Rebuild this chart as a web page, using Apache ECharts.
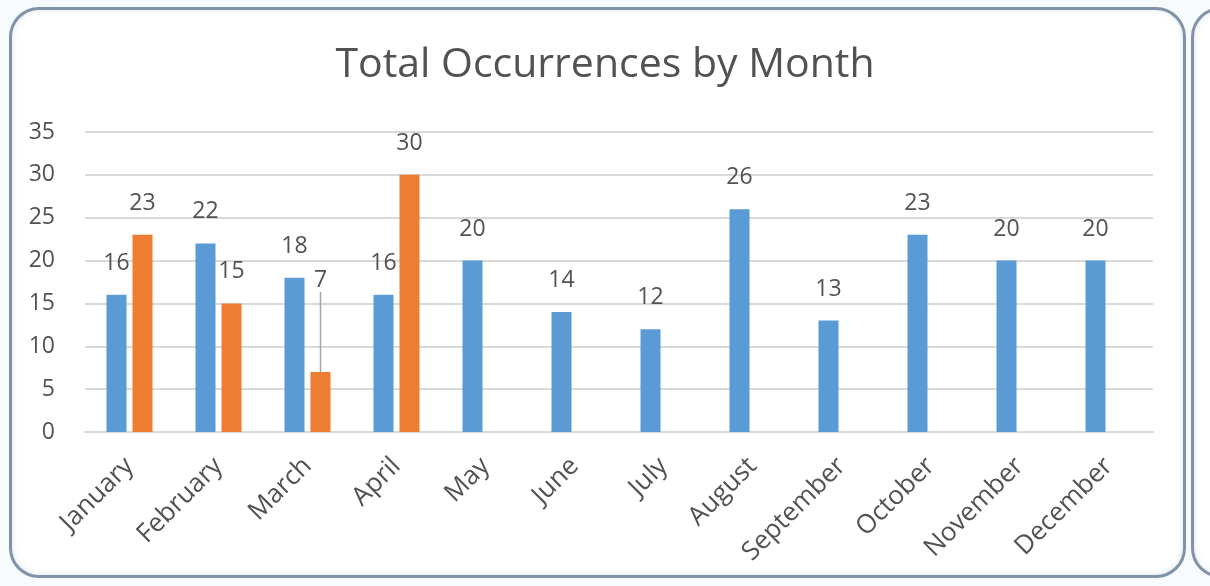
<!DOCTYPE html>
<html>
<head>
<meta charset="utf-8">
<script src="https://cdn.jsdelivr.net/npm/echarts@6/dist/echarts.min.js"></script>
<style>
  html, body { margin: 0; padding: 0; background: #ffffff; }
  #wrap { position: relative; width: 1210px; height: 586px; overflow: hidden; background: #f7fbfd; }
  .frame { position: absolute; border: 3px solid #8193a8; border-radius: 30px; background: #ffffff;
           box-shadow: inset 0 0 6px rgba(160,180,200,0.35); }
  #f1 { left: 9px; top: 7px; width: 1171px; height: 565px; }
  #f2 { left: 1191px; top: 7px; width: 200px; height: 565px; }
  #chart { position: absolute; left: 0; top: 0; width: 1210px; height: 586px; }
</style>
</head>
<body>
<div id="wrap">
  <div class="frame" id="f1"></div>
  <div class="frame" id="f2"></div>
  <div id="chart"></div>
</div>
<script>
const titleText = 'Total Occurrences by Month';
const months = ['January','February','March','April','May','June','July','August','September','October','November','December'];
const seriesA = [16, 22, 18, 16, 20, 14, 12, 26, 13, 23, 20, 20];
const seriesB = [23, 15, 7, 30, null, null, null, null, null, null, null, null];
const yTicks = [0, 5, 10, 15, 20, 25, 30, 35];

const FONT = '"Open Sans", "DejaVu Sans", sans-serif';
const TXT = '#525252';

const chart = echarts.init(document.getElementById('chart'), null, { renderer: 'canvas' });

const dataB = seriesB.map((v, i) => (i === 2 ? { value: v, labelLine: { show: true } } : v));

chart.setOption({
  backgroundColor: 'transparent',
  animation: false,
  title: {
    text: titleText,
    left: 'center',
    top: 40,
    textStyle: { fontFamily: FONT, fontSize: 41, fontWeight: 'normal', color: TXT }
  },
  grid: { left: 85, right: 57, top: 132, bottom: 154, containLabel: false },
  xAxis: {
    type: 'category',
    data: months,
    axisLine: { show: true, lineStyle: { color: '#d9d9d9', width: 2 } },
    axisTick: { show: false },
    axisLabel: { rotate: 45, margin: 30, fontFamily: FONT, fontSize: 26, color: TXT, interval: 0 }
  },
  yAxis: {
    type: 'value',
    min: yTicks[0],
    max: yTicks[yTicks.length - 1],
    interval: 5,
    axisLine: { show: false },
    axisTick: { show: false },
    splitLine: { lineStyle: { color: '#d9d9d9', width: 2 } },
    axisLabel: { margin: 30, fontFamily: FONT, fontSize: 23, color: TXT }
  },
  series: [
    {
      type: 'bar',
      name: 'A',
      data: seriesA,
      barWidth: 20,
      barGap: '30%',
      itemStyle: { color: '#5b9bd5' },
      label: { show: true, position: 'top', distance: 20, fontFamily: FONT, fontSize: 23, color: TXT }
    },
    {
      type: 'bar',
      name: 'B',
      data: dataB,
      barWidth: 20,
      itemStyle: { color: '#ed7d31' },
      label: { show: true, position: 'top', distance: 20, fontFamily: FONT, fontSize: 23, color: TXT },
      labelLine: { show: false, lineStyle: { color: '#a6a6a6', width: 1.5 } },
      labelLayout: function (params) {
        if (params.dataIndex === 2) { return { dy: -60 }; }
        return {};
      }
    }
  ]
});
</script>
</body>
</html>
